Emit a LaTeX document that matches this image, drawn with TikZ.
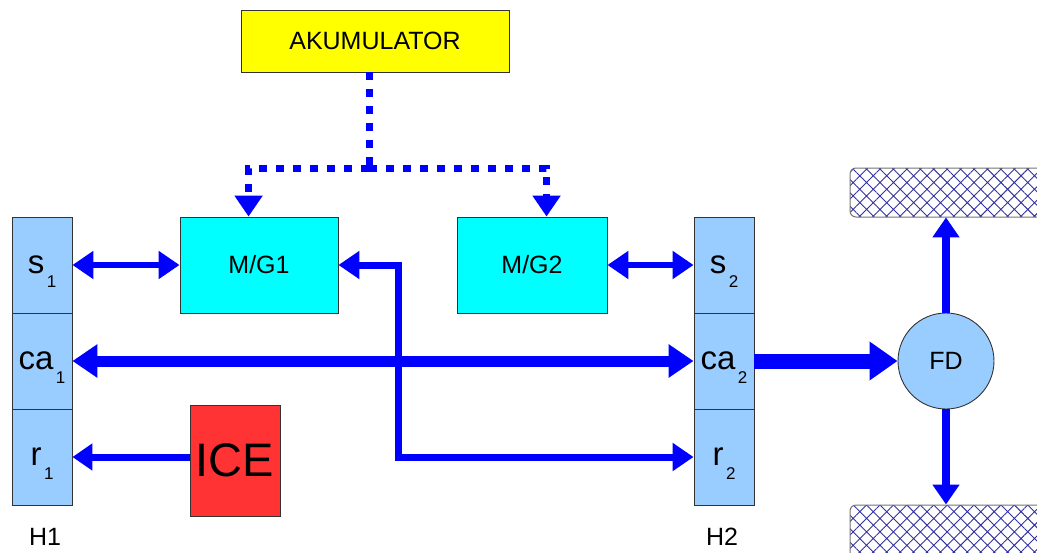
\documentclass[tikz,border=0pt]{standalone}
\usepackage{fontspec}
\setmainfont{Liberation Sans}
\usetikzlibrary{arrows.meta,patterns.meta,calc}
\definecolor{arrblue}{RGB}{0,0,255}
\definecolor{cellblue}{RGB}{153,204,255}
\definecolor{mgcyan}{RGB}{0,255,255}
\definecolor{akuyellow}{RGB}{255,255,0}
\definecolor{icered}{RGB}{255,51,51}
\definecolor{hatchblue}{RGB}{50,50,160}
\newcommand{\cell}[2]{{\fontsize{33}{33}\selectfont #1}\kern2.5pt\raisebox{-14pt}[0pt][0pt]{\fontsize{17}{17}\selectfont #2}}
\tikzset{
  tipS/.tip={Triangle[length=21pt,width=27pt]},
  tipM/.tip={Triangle[length=25pt,width=32pt]},
  tipL/.tip={Triangle[length=28pt,width=37pt]},
  tipV/.tip={Triangle[length=20pt,width=26pt]}}
\begin{document}
\begin{tikzpicture}[x=1pt,y=-1pt,
  box/.style={draw=black!80,line width=0.9pt,inner sep=0pt,font=\fontsize{25}{25}\selectfont},
  gear/.style={box,fill=cellblue,minimum width=60pt,minimum height=96pt},
  wheel/.style={draw=black!55,line width=1pt,rounded corners=6pt,
     pattern={Hatch[distance=9.5pt,angle=45,line width=0.9pt]},pattern color=hatchblue},
  flow/.style={draw=arrblue,line width=6.5pt},
  supply/.style={draw=arrblue,line width=7pt,dash pattern=on 8pt off 9pt},
  lbl/.style={inner sep=0pt,font=\fontsize{25}{25}\selectfont}]
\useasboundingbox (0,0) rectangle (1037,552);
\clip (0,0) rectangle (1037,552);
% wheels
\node[wheel,minimum width=200pt,minimum height=49pt,inner sep=0pt] (w1) at (950,192.5) {};
\node[wheel,minimum width=200pt,minimum height=60pt,inner sep=0pt] (w2) at (950,535) {};
% boxes
\node[box,fill=akuyellow,minimum width=268pt,minimum height=62pt] (aku) at (375,41) {AKUMULATOR};
\node[box,fill=mgcyan,minimum width=158pt,minimum height=96pt] (mg1) at (259,265) {M/G1};
\node[box,fill=mgcyan,minimum width=150pt,minimum height=96pt] (mg2) at (532,265) {M/G2};
\node[box,fill=icered,minimum width=90pt,minimum height=111pt,font=\fontsize{47}{47}\selectfont] (ice) at (235,460.5) {ICE};
\node[gear] (s1) at (42,265) {\cell{s}{1}};
\node[gear] (ca1) at (42,361) {\cell{ca}{1}};
\node[gear] (r1) at (42,457) {\cell{r}{1}};
\node[gear] (s2) at (724,265) {\cell{s}{2}};
\node[gear] (ca2) at (724,361) {\cell{ca}{2}};
\node[gear] (r2) at (724,457) {\cell{r}{2}};
\node[box,circle,fill=cellblue,minimum size=96pt] (fd) at (946,361) {FD};
\node[lbl] (h1) at (45,537) {H1};
\node[lbl] (h2) at (722,537) {H2};
% dotted supply lines
\coordinate (jn) at (369,168);
\coordinate (m1in) at ($(mg1.north west)+(69,0)$);
\coordinate (m2in) at ($(mg2.north west)+(90,0)$);
\draw[supply] (aku.south -| jn) -- (jn);
\draw[supply,-tipS] (jn) -| (m1in);
\draw[supply,-tipS] (jn) -| (m2in);
% power flows
\draw[flow,tipS-tipS] (s1.east) -- (mg1.west);
\draw[flow,tipS-tipS] (mg2.east) -- (s2.west);
\draw[flow,line width=11pt,tipM-tipM] (ca1.east) -- (ca2.west);
\draw[flow,line width=7pt,-tipV] (ice.west |- r1.east) -- (r1.east);
\coordinate (jog) at (398,361);
\draw[flow,line width=7pt,tipS-tipS] (mg1.east) -| (jog) |- (r2.west);
\draw[flow,line width=15pt,-tipL] (ca2.east) -- (fd.west);
\draw[flow,line width=8pt,-tipV] (fd.north) -- (fd.north |- w1.south);
\draw[flow,line width=8pt,-tipV] (fd.south) -- (fd.south |- w2.north);
\end{tikzpicture}
\end{document}
